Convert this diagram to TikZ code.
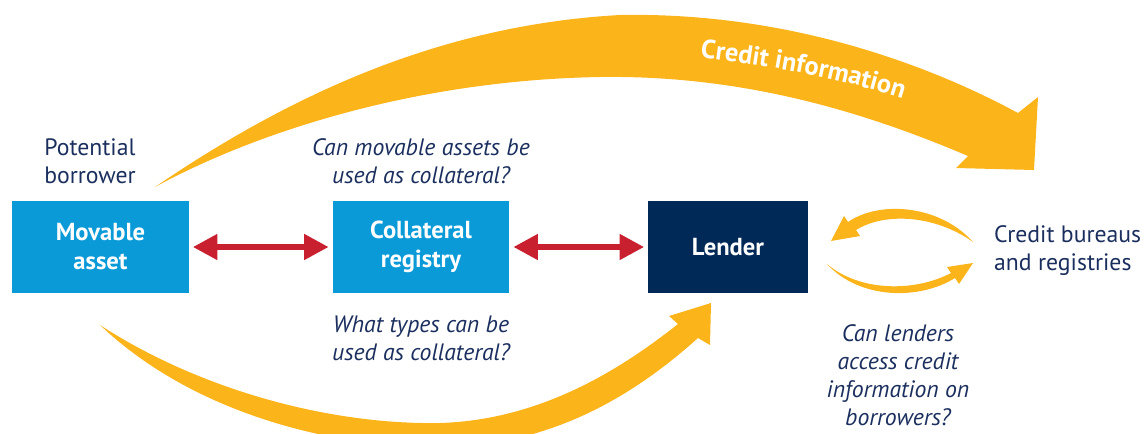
\documentclass[tikz,border=0pt]{standalone}
\usepackage{fontspec}
\setmainfont{PT Sans}
\usetikzlibrary{arrows.meta,decorations.text}
\definecolor{boxblue}{HTML}{0A9AD8}
\definecolor{lendernavy}{HTML}{002957}
\definecolor{textnavy}{HTML}{1B2F5E}
\definecolor{flowyellow}{HTML}{FBB41A}
\definecolor{flowred}{HTML}{C8202F}

\begin{document}
\begin{tikzpicture}[x=0.02cm,y=-0.02cm,
  box/.style={fill=boxblue,text=white,font=\fontsize{14}{16.5}\selectfont\bfseries,align=center,
    minimum width=3.54cm,minimum height=1.84cm,inner sep=0pt},
  lbl/.style={text=textnavy,font=\fontsize{13.5}{16}\selectfont,align=center},
  question/.style={text=textnavy,font=\fontsize{13.5}{16}\selectfont\itshape,align=center},
  redarrow/.style={flowred,line width=3.4pt,{Triangle[length=14pt,width=14pt]}-{Triangle[length=14pt,width=14pt]},
    shorten <=2pt,shorten >=2pt},
  flow/.style={fill=flowyellow,draw=none}]
\useasboundingbox (0,0) rectangle (1146,433);

\fill[flow] (155,187) .. controls (290,95) and (440,25) .. (620,15)
  .. controls (780,12) and (920,60) .. (1018,113) -- (1038,97) -- (1034,170) -- (956,168) -- (968,156)
  .. controls (860,110) and (740,75) .. (600,77) .. controls (420,80) and (260,130) .. (155,187) -- cycle;
\path[decorate,decoration={text along path,text align=center,text color=white,
  text={|\fontsize{15}{18}\selectfont\bfseries|Credit information}}]
  (650,52) .. controls (760,62) and (870,82) .. (950,116);

\fill[flow] (100,325) .. controls (200,420) and (350,450) .. (450,447)
  .. controls (560,443) and (640,390) .. (698,338) -- (710,345) -- (711,303) -- (669,316) -- (678,324)
  .. controls (620,370) and (540,420) .. (440,423) .. controls (330,425) and (200,390) .. (100,325) -- cycle;

\fill[flow] (973,242) .. controls (940,205) and (880,200) .. (848,222) -- (844,216) -- (831,241)
  -- (860,236) -- (856,230) .. controls (885,212) and (935,215) .. (973,242) -- cycle;
\fill[flow] (827,264) .. controls (860,300) and (920,300) .. (955,278) -- (959,284) -- (973,263)
  -- (947,267) -- (951,273) .. controls (915,292) and (860,292) .. (827,264) -- cycle;

\node at (100.5,247) [box] (asset) {Movable\\asset};
\node at (421,247) [box] (registry) {Collateral\\registry};
\node at (728,247) [box,fill=lendernavy,minimum width=3.2cm] (lender) {Lender};

\draw[redarrow] (asset) -- (registry);
\draw[redarrow] (registry) -- (lender);

\node at (90,161) [lbl] (borrower) {Potential\\borrower};
\node at (421,161) [question] (canuse) {Can movable assets be\\used as collateral?};
\node at (421,338) [question] (types) {What types can be\\used as collateral?};
\node at (988,251) [lbl,anchor=west,align=left] (bureaus) {Credit bureaus\\and registries};
\node at (898,375) [question] (access) {Can lenders\\access credit\\information on\\borrowers?};
\end{tikzpicture}
\end{document}
